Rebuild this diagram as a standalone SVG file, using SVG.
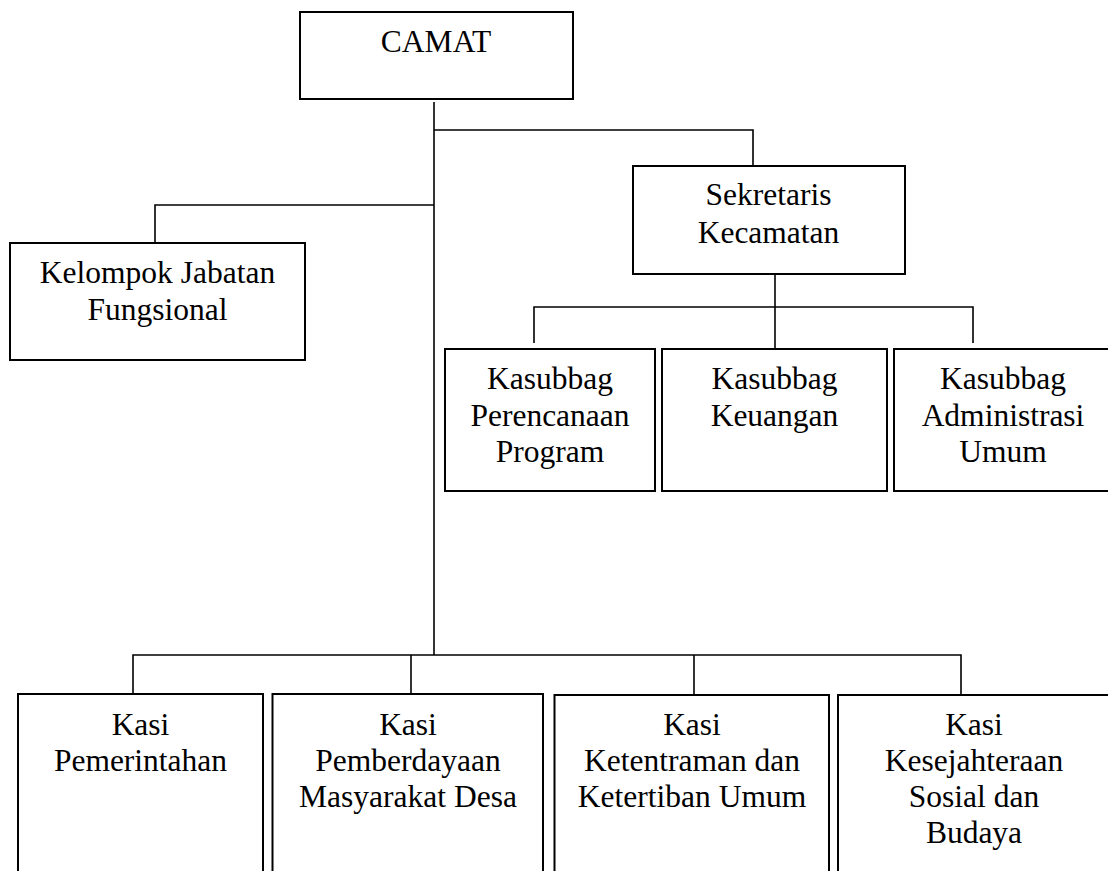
<svg xmlns="http://www.w3.org/2000/svg" width="1108" height="871" viewBox="0 0 1108 871">
<style>
.box{fill:#fff;stroke:#000;stroke-width:2}
.ln{fill:none;stroke:#000;stroke-width:1.6}
.t{font-family:'Liberation Serif',serif;font-size:31.5px;fill:#000;text-anchor:middle}
</style>
<rect width="1108" height="871" fill="#fff"/>
<g id="connectors">
<path class="ln" d="M434,102 V655"/>
<path class="ln" d="M434,130 H753 V166"/>
<path class="ln" d="M434,205 H155 V243"/>
<path class="ln" d="M775,274 V349"/>
<path class="ln" d="M534,343 V307 H973 V343"/>
<path class="ln" d="M133,694 V655 H961 V694"/>
<path class="ln" d="M411,655 V694"/>
<path class="ln" d="M694,655 V694"/>
</g>
<g class="t" font-family="Liberation Serif, serif">
<g id="camat"><rect class="box" x="300" y="12" width="273" height="87"/><text x="436" y="52">CAMAT</text></g>
<g id="kelompok"><rect class="box" x="10" y="243" width="295" height="117"/><text x="157.5" y="283">Kelompok Jabatan</text><text x="157.5" y="320">Fungsional</text></g>
<g id="sekretaris"><rect class="box" x="633" y="166" width="272" height="108"/><text x="768.5" y="205">Sekretaris</text><text x="768.5" y="242.5">Kecamatan</text></g>
<g id="kasubbag-program"><rect class="box" x="445" y="349" width="210" height="142"/><text x="550" y="389">Kasubbag</text><text x="550" y="425.5">Perencanaan</text><text x="550" y="461.5">Program</text></g>
<g id="kasubbag-keuangan"><rect class="box" x="662" y="349" width="225" height="142"/><text x="774.5" y="389">Kasubbag</text><text x="774.5" y="425.5">Keuangan</text></g>
<g id="kasubbag-umum"><rect class="box" x="894" y="349" width="218" height="142"/><text x="1003" y="389">Kasubbag</text><text x="1003" y="425.5">Administrasi</text><text x="1003" y="461.5">Umum</text></g>
<g id="kasi-pemerintahan"><rect class="box" x="18" y="694" width="245" height="200"/><text x="140.5" y="735">Kasi</text><text x="140.5" y="771">Pemerintahan</text></g>
<g id="kasi-pmd"><rect class="box" x="272.5" y="694" width="270.5" height="200"/><text x="408" y="735">Kasi</text><text x="408" y="771">Pemberdayaan</text><text x="408" y="807">Masyarakat Desa</text></g>
<g id="kasi-trantib"><rect class="box" x="554.5" y="695" width="274.5" height="200"/><text x="692" y="735">Kasi</text><text x="692" y="771">Ketentraman dan</text><text x="692" y="807">Ketertiban Umum</text></g>
<g id="kasi-kesos"><rect class="box" x="838" y="695" width="272" height="200"/><text x="974" y="735">Kasi</text><text x="974" y="771">Kesejahteraan</text><text x="974" y="807">Sosial dan</text><text x="974" y="843">Budaya</text></g>
</g>
</svg>
